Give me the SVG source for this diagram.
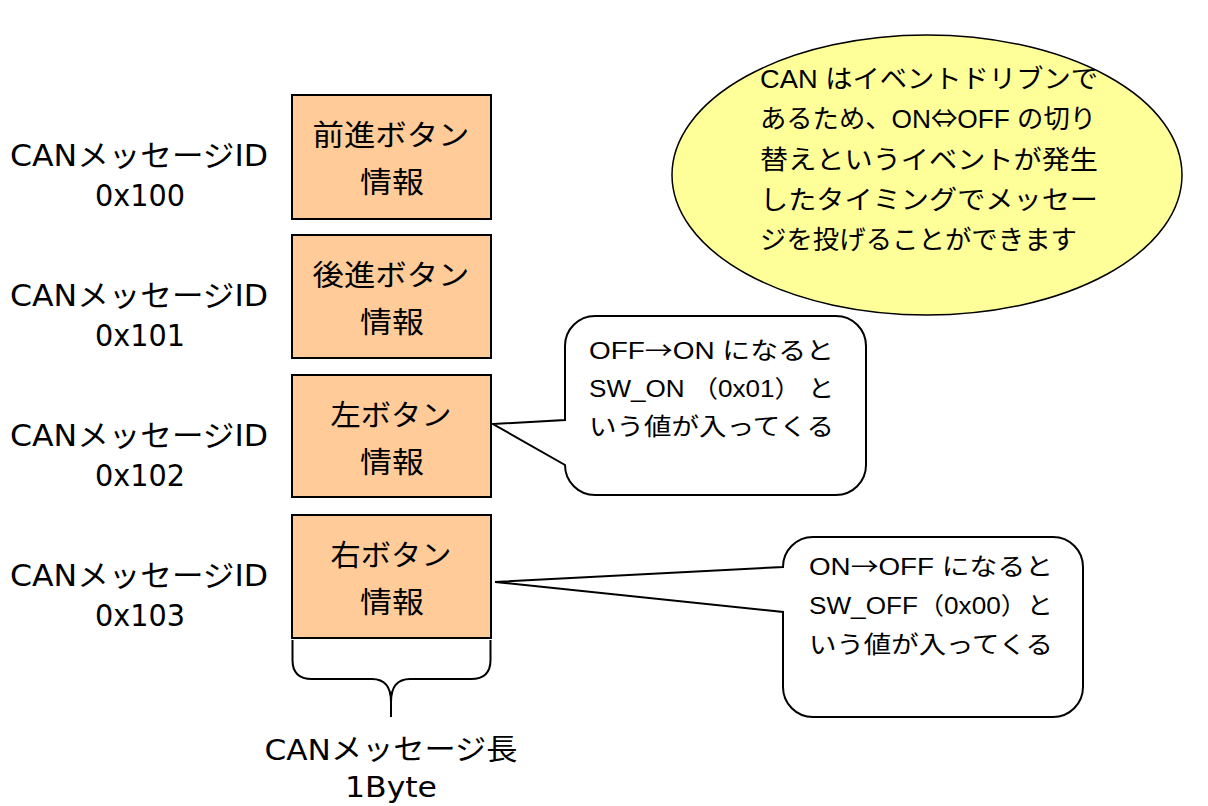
<svg xmlns="http://www.w3.org/2000/svg" width="1208" height="806" viewBox="0 0 1208 806">
<style>
.bg{fill:#ffffff}
.box{fill:#FFCC99;stroke:#000;stroke-width:2}
.lbl{font-family:"DejaVu Sans","Noto Sans CJK JP",sans-serif;font-size:30px;fill:#000;text-anchor:middle}
.btx{font-family:"DejaVu Sans","Noto Sans CJK JP",sans-serif;font-size:29px;fill:#000;text-anchor:middle}
.ctx{font-family:"Liberation Sans","Noto Sans CJK JP",sans-serif;font-size:24px;fill:#000}
.etx{font-family:"Liberation Sans","Noto Sans CJK JP",sans-serif;font-size:26px;fill:#000}
.arr{font-family:"Noto Sans CJK JP",sans-serif}
.call{fill:#fff;stroke:#000;stroke-width:2;stroke-linejoin:miter}
.ell{fill:#FFFF99;stroke:#000;stroke-width:1.5}
.brace{fill:none;stroke:#000;stroke-width:2}
</style>
<rect class="bg" x="0" y="0" width="1208" height="806"/>

<g id="label-0x100">
<text class="lbl" x="139" y="166" textLength="258" lengthAdjust="spacingAndGlyphs">CANメッセージID</text>
<text class="lbl" x="140" y="206" textLength="90" lengthAdjust="spacingAndGlyphs">0x100</text>
</g>
<g id="label-0x101">
<text class="lbl" x="139" y="306" textLength="258" lengthAdjust="spacingAndGlyphs">CANメッセージID</text>
<text class="lbl" x="140" y="346" textLength="90" lengthAdjust="spacingAndGlyphs">0x101</text>
</g>
<g id="label-0x102">
<text class="lbl" x="139" y="446" textLength="258" lengthAdjust="spacingAndGlyphs">CANメッセージID</text>
<text class="lbl" x="140" y="486" textLength="90" lengthAdjust="spacingAndGlyphs">0x102</text>
</g>
<g id="label-0x103">
<text class="lbl" x="139" y="586" textLength="258" lengthAdjust="spacingAndGlyphs">CANメッセージID</text>
<text class="lbl" x="140" y="626" textLength="90" lengthAdjust="spacingAndGlyphs">0x103</text>
</g>

<g id="box-forward">
<rect class="box" x="292" y="95" width="199" height="124"/>
<text class="btx" x="391" y="146" textLength="157" lengthAdjust="spacingAndGlyphs">前進ボタン</text>
<text class="btx" x="392" y="193" textLength="64" lengthAdjust="spacingAndGlyphs">情報</text>
</g>
<g id="box-backward">
<rect class="box" x="292" y="235" width="199" height="123"/>
<text class="btx" x="391" y="286" textLength="157" lengthAdjust="spacingAndGlyphs">後進ボタン</text>
<text class="btx" x="392" y="333" textLength="64" lengthAdjust="spacingAndGlyphs">情報</text>
</g>
<g id="box-left">
<rect class="box" x="292" y="375" width="199" height="122"/>
<text class="btx" x="391" y="426" textLength="121" lengthAdjust="spacingAndGlyphs">左ボタン</text>
<text class="btx" x="392" y="473" textLength="64" lengthAdjust="spacingAndGlyphs">情報</text>
</g>
<g id="box-right">
<rect class="box" x="292" y="515" width="199" height="123"/>
<text class="btx" x="391" y="566" textLength="121" lengthAdjust="spacingAndGlyphs">右ボタン</text>
<text class="btx" x="392" y="613" textLength="64" lengthAdjust="spacingAndGlyphs">情報</text>
</g>

<g id="brace-length">
<path class="brace" d="M292.5,640 V660 Q292.5,679 312,679 H372 Q391,679 391,702 V717 M490.5,640 V660 Q490.5,679 471,679 H410 Q391,679 391,702"/>
<text class="btx" x="391" y="760" textLength="253" lengthAdjust="spacingAndGlyphs">CANメッセージ長</text>
<text class="btx" x="391" y="797" textLength="92" lengthAdjust="spacingAndGlyphs">1Byte</text>
</g>

<g id="note-event-driven">
<ellipse class="ell" cx="927" cy="175" rx="255" ry="140"/>
<text class="etx" x="760" y="88" textLength="338" lengthAdjust="spacingAndGlyphs">CAN はイベントドリブンで</text>
<text class="etx" x="760" y="128" textLength="336" lengthAdjust="spacingAndGlyphs">あるため、ON<tspan class="arr">⇔</tspan>OFF の切り</text>
<text class="etx" x="760" y="169" textLength="338" lengthAdjust="spacingAndGlyphs">替えというイベントが発生</text>
<text class="etx" x="760" y="209" textLength="338" lengthAdjust="spacingAndGlyphs">したタイミングでメッセー</text>
<text class="etx" x="760" y="249" textLength="317" lengthAdjust="spacingAndGlyphs">ジを投げることができます</text>
</g>

<g id="callouts">
<g id="callout-on">
<path class="call" d="M595,316 H836 A30,30 0 0 1 866,346 V465 A30,30 0 0 1 836,495 H595 A30,30 0 0 1 565,465 L493,424 L565,420 V346 A30,30 0 0 1 595,316 Z"/>
<text class="ctx" x="589" y="359" textLength="245" lengthAdjust="spacingAndGlyphs">OFF<tspan class="arr">→</tspan>ON になると</text>
<text class="ctx" x="589" y="397" textLength="245" lengthAdjust="spacingAndGlyphs">SW_ON （0x01） と</text>
<text class="ctx" x="589" y="435" textLength="245" lengthAdjust="spacingAndGlyphs">いう値が入ってくる</text>
</g>
<g id="callout-off">
<path class="call" d="M813,537 H1053 A30,30 0 0 1 1083,567 V687 A30,30 0 0 1 1053,717 H813 A30,30 0 0 1 783,687 V612 L495,582 L783,567 A30,30 0 0 1 813,537 Z"/>
<text class="ctx" x="809" y="575" textLength="244" lengthAdjust="spacingAndGlyphs">ON<tspan class="arr">→</tspan>OFF になると</text>
<text class="ctx" x="809" y="614" textLength="244" lengthAdjust="spacingAndGlyphs">SW_OFF（0x00）と</text>
<text class="ctx" x="809" y="653" textLength="244" lengthAdjust="spacingAndGlyphs">いう値が入ってくる</text>
</g>
</g>
</svg>
